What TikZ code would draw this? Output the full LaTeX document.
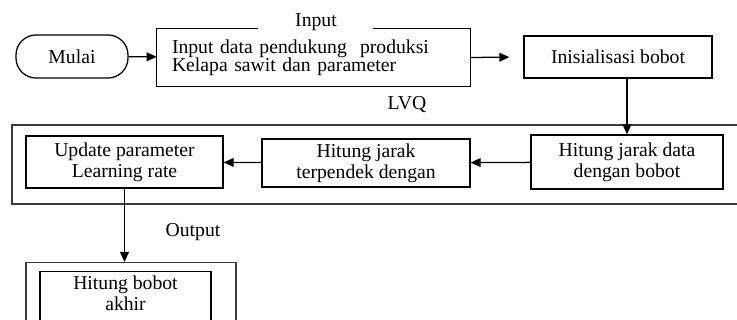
\documentclass[tikz,border=0pt]{standalone}
\usepackage{fontspec}
\setmainfont{Liberation Serif}
\usetikzlibrary{arrows.meta, calc}
\usepackage{xcolor}
\definecolor{lvqframe}{HTML}{3A3A3A}

\begin{document}
\begin{tikzpicture}[
    font=\fontsize{14}{15}\selectfont,
    box/.style={draw, line width=0.9pt, align=center, inner sep=2pt},
    flow/.style={-{Triangle[length=2.5mm,width=2.2mm]}, line width=0.9pt},
    group/.style={draw=lvqframe, line width=0.9pt}]
        \clip (0,0) rectangle (18.425,8);
        % start and input data
        \node[box, rounded corners=0.5cm, minimum width=2.8cm, minimum height=1.075cm] (mulai) at (1.8,6.5875) {Mulai};
        \node[align=left, text width=7.075cm, inner xsep=0.375cm, minimum height=1.425cm, font=\fontsize{14}{13}\selectfont] (inp) at (7.8375,6.5625) {Input data pendukung~ produksi\\Kelapa sawit dan parameter};
        \draw[line width=0.9pt] ([xshift=2.525cm]inp.north west) -- (inp.north west) -- (inp.south west) -- (inp.south east) -- (inp.north east) -- ([xshift=-2.425cm]inp.north east);
        \node (lblinput) at (7.9,7.45) {Input};
        \node[box, minimum width=4.7cm, minimum height=1.05cm] (init) at (15.45,6.575) {Inisialisasi bobot};
        \draw[flow] (mulai) -- (inp);
        \draw[flow, shorten >=0.35cm] (inp.east) -- (init.west);
        % LVQ stage
        \draw[group] (0.3,2.9) rectangle (19,4.875);
        \node (lbllvq) at (10.175,5.375) {LVQ};
        \node[box, minimum width=4.8cm, minimum height=1.35cm] (jarak) at (15.675,3.95) {Hitung jarak data\\dengan bobot};
        \node[box, minimum width=5.2cm, minimum height=1.2cm] (terpendek) at (9.15,3.925) {Hitung jarak\\terpendek dengan};
        \node[box, minimum width=4.925cm, minimum height=1.3cm] (update) at (3.1125,3.95) {Update parameter\\Learning rate};
        \draw[flow] (jarak.north |- init.south) -- (jarak.north);
        \draw[flow] (jarak) -- (terpendek);
        \draw[flow] (terpendek) -- (update);
        % output stage
        \node (lbloutput) at (4.825,2.2) {Output};
        \node[group, anchor=north, minimum width=5.25cm, minimum height=2.5cm] (outbox) at (3.275,1.45) {};
        \node[box, anchor=north, minimum width=4.275cm, minimum height=2.5cm] (akhirbox) at (3.1375,1.225) {};
        \node[align=center] (akhir) at (3.1375,0.675) {Hitung bobot\\akhir};
        \draw[flow] (update.south) -- (update.south |- outbox.north);
\end{tikzpicture}
\end{document}
